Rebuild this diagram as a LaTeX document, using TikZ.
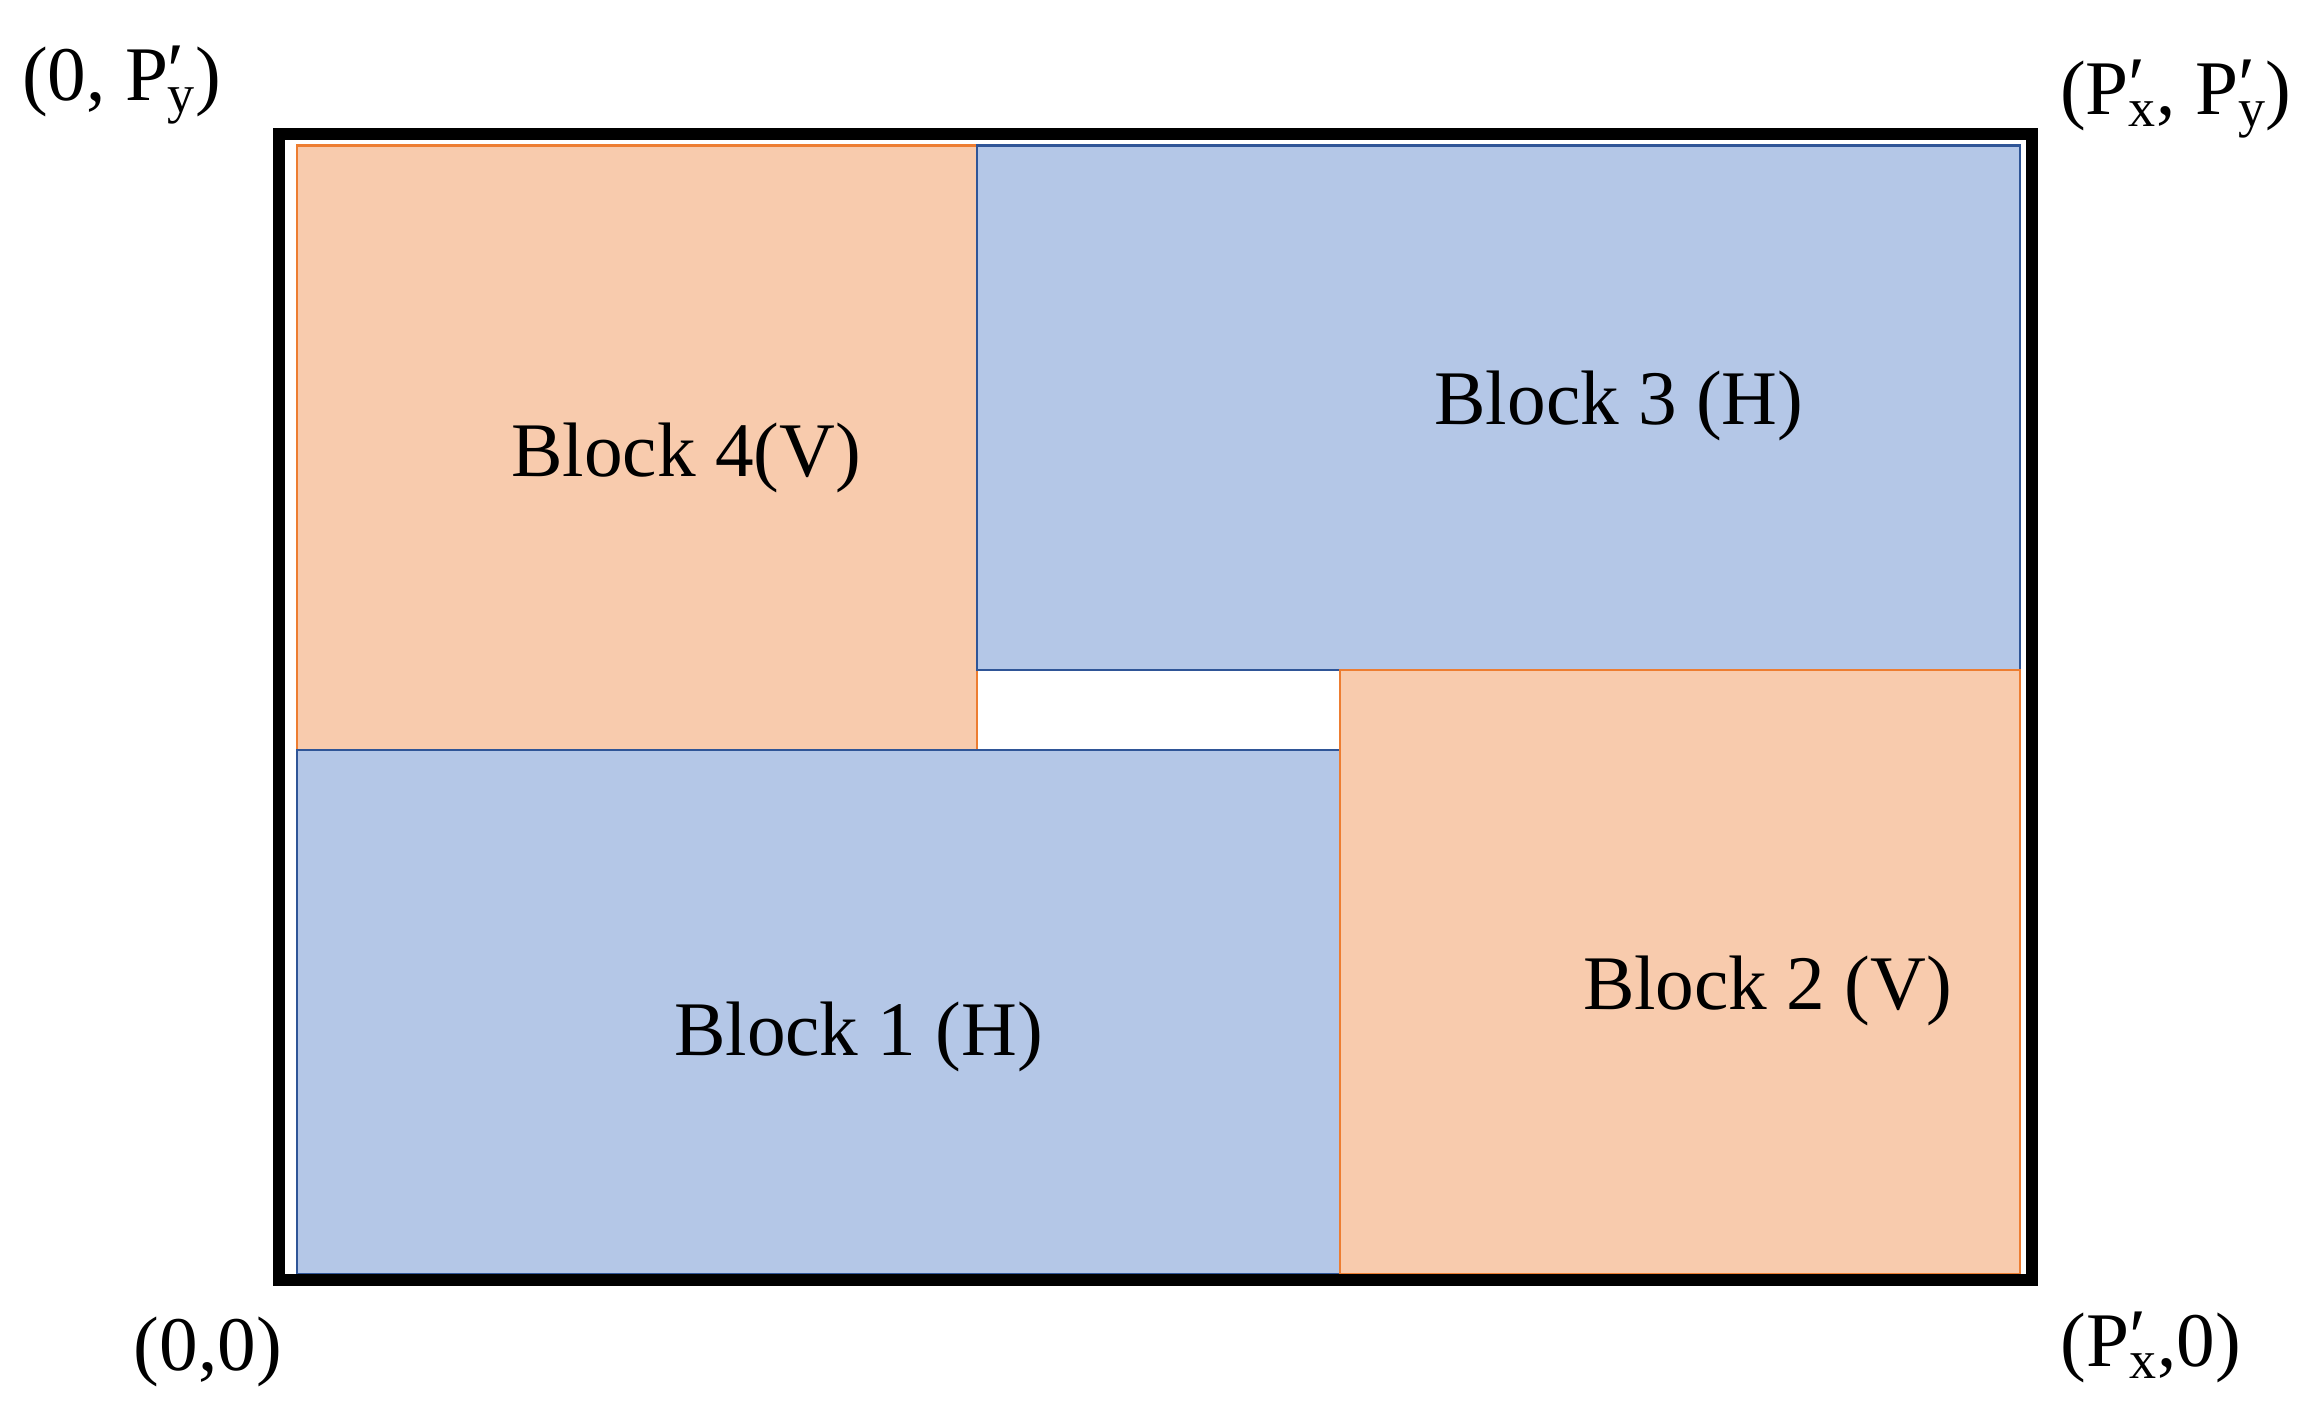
\documentclass[tikz,border=0pt]{standalone}
\usepackage{fontspec}
\setmainfont{Liberation Serif}
\definecolor{org}{HTML}{F8CBAD}
\definecolor{orgl}{HTML}{ED7D31}
\definecolor{blu}{HTML}{B4C7E7}
\definecolor{blul}{HTML}{2F5597}
\newcommand{\Pp}[1]{P\rlap{\raisebox{0.05em}{′}}\textsubscript{#1}}
\begin{document}
\begin{tikzpicture}[x=1pt,y=-1pt,
  lbl/.style={font=\fontsize{52}{60}\selectfont, inner sep=0},
  oblk/.style={fill=org, draw=orgl, line width=1.5},
  bblk/.style={fill=blu, draw=blul, line width=1.5}]
\useasboundingbox (0,0) rectangle (1560,946);
\path[oblk] (200,98) rectangle (658,505);
\path[bblk] (658,98) rectangle (1360,451);
\path[bblk] (200,505) rectangle (902,858);
\path[oblk] (902,451) rectangle (1360,858);
\node[draw, line width=8, minimum width=1180, minimum height=772, inner sep=0] (frame) at (778,476) {};
\node[lbl] (b4) at (462,308) {Block 4(V)};
\node[lbl] (b3) at (1090,273) {Block 3 (H)};
\node[lbl] (b1) at (578,698) {Block 1 (H)};
\node[lbl] (b2) at (1190,667) {Block 2 (V)};
\node[lbl] (c1) at (82,57) {(0, \Pp{y})};
\node[lbl] (c2) at (1465,67) {(\Pp{x}, \Pp{y})};
\node[lbl] (c3) at (140,910) {(0,0)};
\node[lbl] (c4) at (1448,907) {(\Pp{x},0)};
\end{tikzpicture}
\end{document}
